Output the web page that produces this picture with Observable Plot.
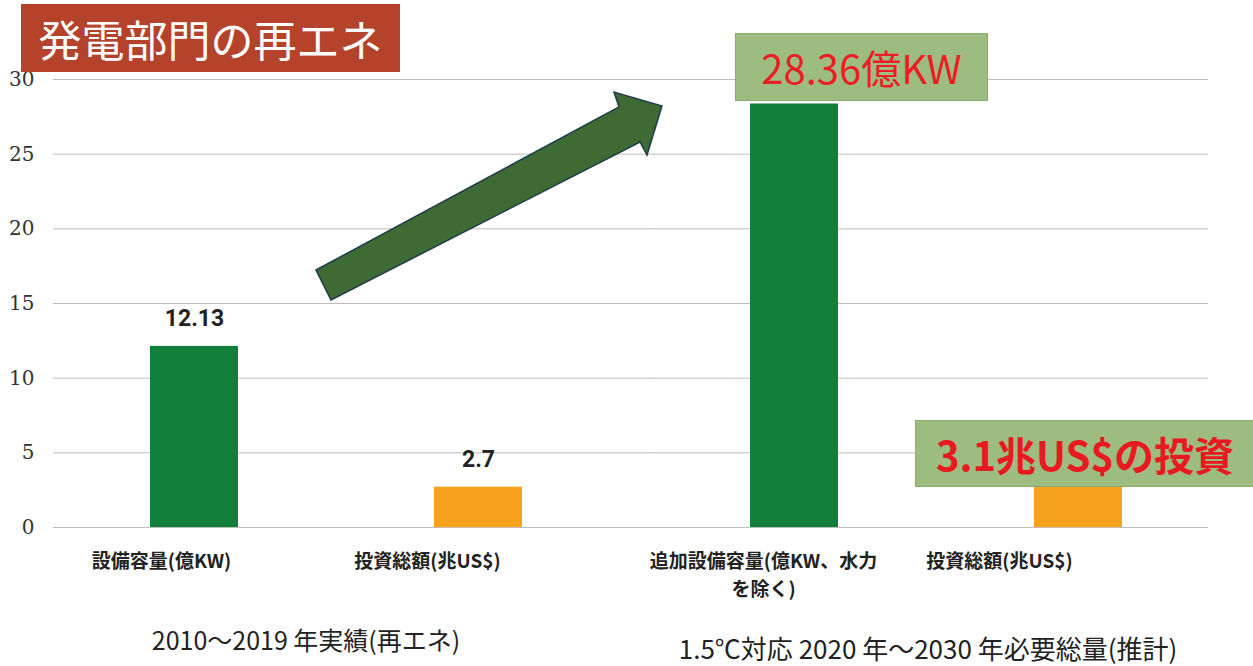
<!DOCTYPE html>
<html><head><meta charset="utf-8">
<script src="https://cdn.jsdelivr.net/npm/d3@7"></script>
<script src="https://cdn.jsdelivr.net/npm/@observablehq/plot@0.6"></script>
<style>
html,body{margin:0;padding:0;background:#fff;}
#wrap{position:relative;width:1253px;height:666px;overflow:hidden;background:#fff;}
#chart{position:absolute;left:0;top:0;}
#deco{position:absolute;left:0;top:0;pointer-events:none;}
.box{position:absolute;display:flex;align-items:center;justify-content:center;box-sizing:border-box;white-space:nowrap;font-family:"Noto Sans CJK JP","Noto Sans",sans-serif;}
#title{left:21px;top:4px;width:379px;height:68px;background:#b5432c;color:#fff;font-size:43px;font-weight:400;}
#call1{left:735px;top:33px;width:253px;height:68px;background:#9dbd80;border:1px solid #8aa86f;color:#ea1f25;font-size:40px;font-weight:400;}
#call2{left:915px;top:420px;width:340px;height:67px;background:#9dbd80;border:1px solid #8aa86f;color:#e8191f;font-size:40px;font-weight:700;}
</style></head>
<body>
<div id="wrap">
  <div id="chart"></div>
  <svg id="deco" width="1253" height="666"></svg>
  <div class="box" id="title"></div>
  <div class="box" id="call1"></div>
  <div class="box" id="call2"></div>
</div>
<script>
// ---- data ----
const groups = ["2010〜2019 年実績(再エネ)", "1.5℃対応 2020 年〜2030 年必要総量(推計)"];
const kinds = ["capacity", "investment"];
const barGroup = [groups[0], groups[0], groups[1], groups[1]];
const barKind = ["capacity", "investment", "capacity", "investment"];
const categoryLabels = ["設備容量(億KW)", "投資総額(兆US$)", "追加設備容量(億KW、水力\nを除く)", "投資総額(兆US$)"];
const values = [12.13, 2.7, 28.36, 3.1];
const valueLabels = ["12.13", "2.7", "", ""];
const yTicks = [0, 5, 10, 15, 20, 25, 30];
const titleText = "発電部門の再エネ";
const calloutTexts = ["28.36億KW", "3.1兆US$の投資"];

const rows = values.map((v, i) => ({group: barGroup[i], kind: barKind[i], value: v, label: categoryLabels[i], vlabel: valueLabels[i]}));

// ---- style-only offsets for labels ----
const labelShift = [-33, -51, -31, -79];
const groupShift = [-25, -3];
const groupDy = [114, 123];
const groupSize = [25, 26];

const cjk = "Noto Sans CJK JP, Noto Sans, sans-serif";

const marks = [
  Plot.ruleY(yTicks, {fx: () => groups[0], y: d => d, stroke: "#bdbdbd", strokeWidth: 1, insetRight: -46}),
  Plot.ruleY(yTicks, {fx: () => groups[1], y: d => d, stroke: "#bdbdbd", strokeWidth: 1}),
  Plot.barY(rows, {fx: "group", x: "kind", y: "value", fill: "kind"}),
  Plot.text(rows.filter(d => d.vlabel), {fx: "group", x: "kind", y: "value", text: "vlabel", dy: -28,
    fontSize: 23, fontWeight: 700, fontFamily: "Liberation Sans Narrow, Roboto, sans-serif", fill: "#222"}),
  ...rows.map((r, i) => Plot.text([r], {fx: "group", x: "kind", y: () => 0, text: "label", dx: labelShift[i], dy: 20,
    lineAnchor: "top", lineHeight: 1.5, fontSize: 19, fontWeight: 700, fontFamily: cjk, fill: "#222"})),
  ...groups.map((g, i) => Plot.text([g], {fx: d => d, y: () => 0, text: d => d, dx: groupShift[i], dy: groupDy[i],
    fontSize: groupSize[i], fontWeight: 400, fontFamily: cjk, fill: "#222"})),
  // y tick labels (left facet only)
  Plot.text(yTicks, {fx: () => groups[0], y: d => d, text: d => String(d), frameAnchor: "left", textAnchor: "end", dx: -19,
    fontSize: 20, fontFamily: "DejaVu Serif, Liberation Serif, serif", fill: "#333"})
];

const chart = Plot.plot({
  width: 1253, height: 666,
  marginLeft: 53, marginRight: 45, marginTop: 79, marginBottom: 139,
  style: {background: "transparent", overflow: "visible"},
  y: {domain: [0, 30], axis: null},
  x: {domain: kinds, paddingInner: 0.691, paddingOuter: 0.321, align: 0.53, axis: null},
  fx: {domain: groups, paddingInner: 0.075, paddingOuter: 0, axis: null},
  color: {domain: kinds, range: ["#12803a", "#f6a21d"]},
  marks
});
document.getElementById("chart").appendChild(chart);

// ---- decorations ----
document.getElementById("title").textContent = titleText;
document.getElementById("call1").textContent = calloutTexts[0];
document.getElementById("call2").textContent = calloutTexts[1];
const deco = d3.select("#deco");
deco.append("polygon")
  .attr("points", [[316,270],[619,107],[614,92],[662,106],[647,155],[640,142],[331,300]].map(p => p.join(",")).join(" "))
  .attr("fill", "#3e6a34").attr("stroke", "#1f3b4c").attr("stroke-width", 1.5).attr("stroke-linejoin", "miter");
</script>
</body></html>
